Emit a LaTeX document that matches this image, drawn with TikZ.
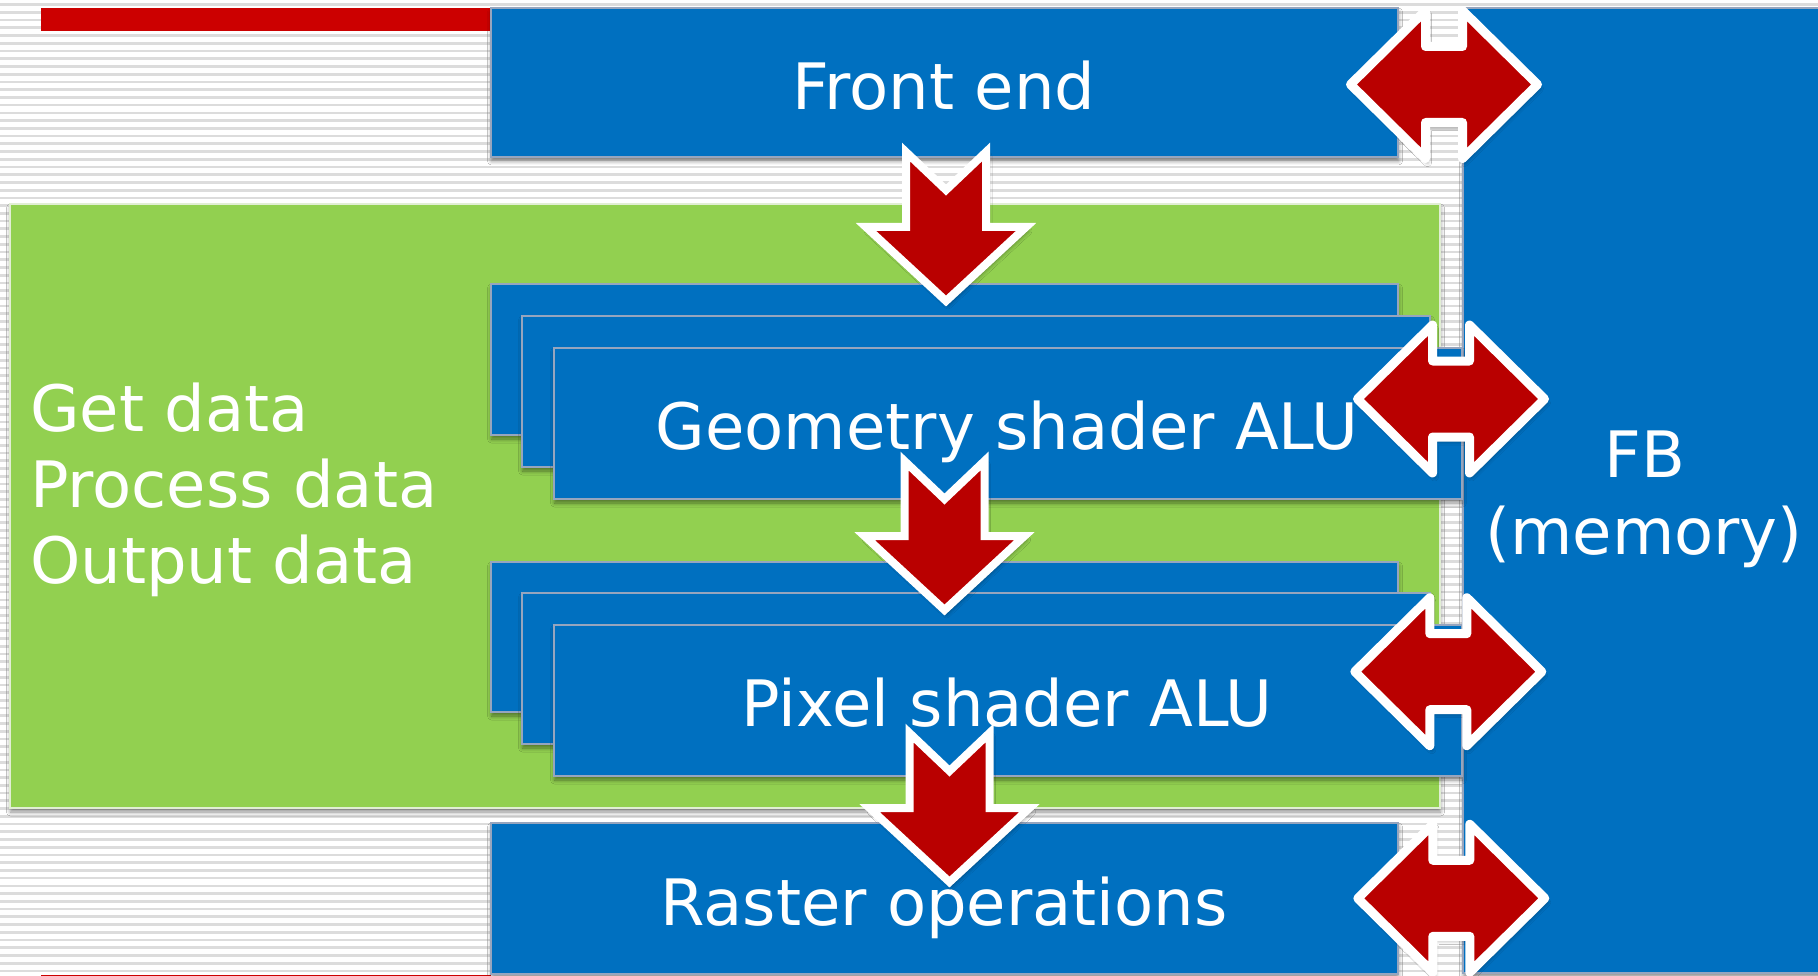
\documentclass[tikz,border=0pt]{standalone}
\usepackage{fontspec}
\setmainfont{DejaVu Sans}
\usetikzlibrary{shadows.blur}

\definecolor{unitblue}{RGB}{0,112,192}
\definecolor{procgreen}{RGB}{146,208,80}
\definecolor{barred}{RGB}{204,0,0}
\definecolor{arrowred}{RGB}{185,0,0}
\definecolor{stripegray}{RGB}{220,220,220}
\definecolor{edgegray}{RGB}{150,165,190}
\definecolor{greenedge}{RGB}{225,238,212}

\tikzset{
  softshadow/.style={blur shadow={shadow xshift=0.5pt, shadow yshift=-4pt,
      shadow blur radius=4pt, shadow blur steps=6, shadow opacity=45}},
  blockbox/.style={fill=unitblue, draw=edgegray, line width=1.5pt,
      inner sep=0pt, outer sep=0pt, anchor=north west, softshadow},
  greenbox/.style={fill=procgreen, draw=greenedge, line width=2pt,
      inner sep=0pt, outer sep=0pt, anchor=north west, softshadow},
  label/.style={text=white, font=\fontsize{64}{76}\selectfont,
      inner sep=0pt, anchor=base},
  blockarrow/.style={fill=arrowred, draw=white, line width=8pt,
      blur shadow={shadow xshift=2pt, shadow yshift=-4pt,
      shadow blur radius=4pt, shadow blur steps=6, shadow opacity=40}},
  pics/downarrow/.style={code={
      \path[blockarrow] (-40,0) -- (0,38) -- (40,0) -- (40,75) -- (80,75)
        -- (0,149) -- (-80,75) -- (-40,75) -- cycle;}},
  pics/twowayarrow/.style={code={
      \path[blockarrow, line width=9pt, line join=round]
        (-93.5,0) -- (-18.5,-74) -- (-18.5,-38) -- (18.5,-38) -- (18.5,-74)
        -- (93.5,0) -- (18.5,74) -- (18.5,38) -- (-18.5,38) -- (-18.5,74)
        -- cycle;}},
}

\begin{document}
\begin{tikzpicture}[x=1pt, y=-1pt]
  \useasboundingbox (0,0) rectangle (1818,976);
  \clip (0,0) rectangle (1818,976);

  % striped slide background
  \fill[white] (0,0) rectangle (1818,976);
  \foreach \i in {0,...,127}
    \fill[stripegray] (0,{3.3+7.73*\i}) rectangle (1818,{6.0+7.73*\i});

  % title bars
  \fill[barred] (41,8) rectangle (491,31);
  \fill[barred] (41,975.4) rectangle (491,990);

  % frame buffer column
  \node[blockbox, minimum width=400pt, minimum height=965pt] (fb) at (1463,8) {};

  % front end
  \node[blockbox, minimum width=907pt, minimum height=149pt] (fe) at (491,8) {};

  % programmable stage
  \node[greenbox, minimum width=1430pt, minimum height=604pt] (prog) at (10,204) {};

  % geometry shader ALUs (stacked)
  \node[blockbox, minimum width=907pt, minimum height=151pt] (geoA) at (491,284) {};
  \node[blockbox, minimum width=908pt, minimum height=151pt] (geoB) at (522,316) {};
  \node[blockbox, minimum width=908pt, minimum height=151pt] (geoC) at (554,348) {};

  % pixel shader ALUs (stacked)
  \node[blockbox, minimum width=907pt, minimum height=150pt] (pixA) at (491,562) {};
  \node[blockbox, minimum width=908pt, minimum height=151pt] (pixB) at (522,593) {};
  \node[blockbox, minimum width=908pt, minimum height=151pt] (pixC) at (554,625) {};

  % raster operations
  \node[blockbox, minimum width=907pt, minimum height=151pt] (rop) at (491,823) {};

  % labels
  \node[label] (feText) at (944,110) {Front end};
  \node[label] (geoText) at (1007,449) {Geometry shader ALU};
  \node[label] (pixText) at (1007,726) {Pixel shader ALU};
  \node[label] (ropText) at (944,925) {Raster operations};
  \node[label, anchor=base west] (getText) at (30,431) {Get data};
  \node[label, anchor=base west] (procText) at (30,507) {Process data};
  \node[label, anchor=base west] (outText) at (30,583) {Output data};
  \node[label] (fbText) at (1645,477) {FB};
  \node[label] (memText) at (1644,554) {(memory)};

  % data flow down the pipeline
  \pic at (946,152) {downarrow};
  \pic at (944.5,461) {downarrow};
  \pic at (949.5,733) {downarrow};

  % traffic to and from memory
  \pic at (1444,84.5) {twowayarrow};
  \pic at (1451,399) {twowayarrow};
  \pic at (1448.3,671.7) {twowayarrow};
  \pic at (1451.3,898.3) {twowayarrow};
\end{tikzpicture}
\end{document}
